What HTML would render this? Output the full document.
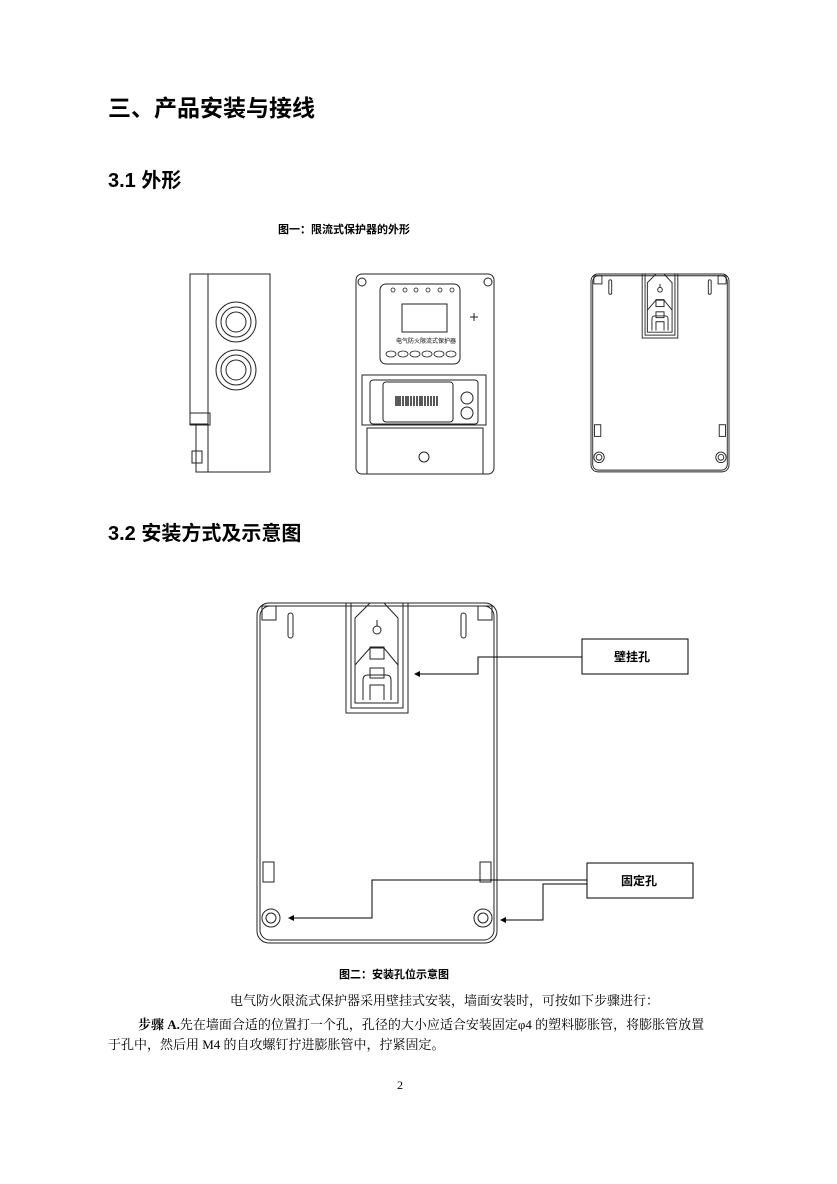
<!DOCTYPE html>
<html><head><meta charset="utf-8"><style>
body{margin:0;background:#fff;}
.p{position:relative;width:837px;height:1184px;overflow:hidden;font-family:"Liberation Sans","Noto Sans CJK SC",sans-serif;color:#000;}
.t{position:absolute;white-space:nowrap;}
.s{font-size:13px;font-family:'Liberation Serif','Noto Serif CJK SC',serif;}
</style></head><body><div class="p">
<div class="t" style="left:108px;top:89px;font-size:23px;font-weight:bold;">三、产品安装与接线</div>
<div class="t" style="left:108px;top:164px;font-size:20px;font-weight:bold;">3.1 外形</div>
<div class="t" style="left:278px;top:221px;font-size:11px;font-weight:bold;">图一：限流式保护器的外形</div>
<div class="t" style="left:108px;top:517px;font-size:20px;font-weight:bold;">3.2 安装方式及示意图</div>
<div class="t" style="left:339px;top:966px;font-size:11px;font-weight:bold;">图二：安装孔位示意图</div>
<div class="t s" style="left:230px;top:990px;">电气防火限流式保护器采用壁挂式安装，墙面安装时，可按如下步骤进行：</div>
<div class="t s" style="left:138px;top:1014px;"><b>步骤 A.</b>先在墙面合适的位置打一个孔，孔径的大小应适合安装固定φ4 的塑料膨胀管，将膨胀管放置</div>
<div class="t s" style="left:108px;top:1034px;">于孔中，然后用 M4 的自攻螺钉拧进膨胀管中，拧紧固定。</div>
<div class="t" style="left:397px;top:1078px;font-size:12px;font-family:'Liberation Serif',serif;">2</div>
<svg width="837" height="1184" style="position:absolute;left:0;top:0" fill="none" stroke="#222" stroke-width="1">
<defs>
<g id="back">
<rect x="257" y="603" width="240" height="340" rx="12"/>
<rect x="260" y="606" width="234" height="334" rx="10"/>
<rect x="262" y="606" width="14" height="14"/><rect x="478" y="606" width="14" height="14"/>
<rect x="288" y="613" width="5" height="25" rx="2.5"/><rect x="461" y="613" width="5" height="25" rx="2.5"/>
<rect x="346" y="603" width="62" height="110"/><rect x="351" y="603" width="52" height="105"/>
<path d="M355 618 L370 603 L384 603 L398 618 L398 703 L355 703 Z"/>
<circle cx="377" cy="630" r="4"/><path d="M377 620 L377 626"/>
<path d="M355 665 L370 648 L384 648 L398 665"/>
<rect x="370" y="647" width="14" height="12"/><rect x="370" y="668" width="14" height="10"/>
<path d="M363 700 L363 680 Q363 675 368 675 L386 675 Q391 675 391 680 L391 700"/>
<path d="M370 700 L370 685 L384 685 L384 700"/>
<rect x="263" y="862" width="11" height="20"/><rect x="480" y="862" width="11" height="20"/>
<circle cx="271" cy="918" r="9"/><circle cx="271" cy="918" r="5"/>
<circle cx="483" cy="918" r="9"/><circle cx="483" cy="918" r="5"/>
</g>
</defs>
<use href="#back"/>
<g transform="translate(591,274) scale(0.575,0.582) translate(-257,-603)" stroke-width="1.6"><use href="#back"/></g>
<rect x="582" y="639" width="106" height="35" stroke="#000"/>
<rect x="587" y="863" width="106" height="35" stroke="#000"/>
<path d="M582 657 H478 V674 H418" stroke="#000"/>
<path d="M587 880 H372 V918 H292" stroke="#000"/>
<path d="M587 884 H543 V920 H504" stroke="#000"/>
<g fill="#000" stroke="none">
<path d="M414 674 l6 -3 v6z"/><path d="M288 918 l6 -3 v6z"/><path d="M500 920 l6 -3 v6z"/>
</g>
<rect x="208" y="274" width="62" height="198"/>
<rect x="190" y="274" width="18" height="150"/>
<rect x="196" y="424" width="12" height="48"/>
<rect x="190" y="413" width="20" height="12"/>
<circle cx="236" cy="322" r="20"/><circle cx="236" cy="322" r="15"/><circle cx="236" cy="322" r="10"/>
<circle cx="236" cy="370" r="20"/><circle cx="236" cy="370" r="15"/><circle cx="236" cy="370" r="10"/>
<rect x="192" y="451" width="10" height="12"/>
<rect x="356" y="274" width="138" height="200" rx="6"/>
<circle cx="362" cy="282" r="4"/><circle cx="488" cy="282" r="4"/>
<rect x="380" y="284" width="80" height="80" rx="6"/>
<rect x="402" y="304" width="45" height="28"/>
<rect x="362" y="375" width="124" height="50"/>
<rect x="370" y="380" width="108" height="44" rx="3"/>
<rect x="383" y="382" width="70" height="40" rx="3"/>
<circle cx="467" cy="398" r="6"/><circle cx="467" cy="413" r="6"/>
<rect x="367" y="428" width="116" height="46"/>
<circle cx="424" cy="457" r="5"/>
<g stroke-width="1.5"><path d="M396 396v10M398 396v10M400 396v10M403 396v10M406 396v10M408 396v10M411 396v10M414 396v10M417 396v10M420 396v10M422 396v10M425 396v10M428 396v10M431 396v10M434 396v10M437 396v10"/></g>
<path d="M470 317h8M474 313v8"/>
<g stroke-width="0.8"><circle cx="393" cy="290" r="2"/><circle cx="405" cy="290" r="2"/><circle cx="416" cy="290" r="2"/><circle cx="428" cy="290" r="2"/><circle cx="440" cy="290" r="2"/><circle cx="452" cy="290" r="2"/>
<ellipse cx="391" cy="354" rx="5" ry="3"/><ellipse cx="403" cy="354" rx="5" ry="3"/><ellipse cx="415" cy="354" rx="5" ry="3"/><ellipse cx="427" cy="354" rx="5" ry="3"/><ellipse cx="439" cy="354" rx="5" ry="3"/><ellipse cx="451" cy="354" rx="5" ry="3"/></g>
</svg>
<div class="t" style="left:614px;top:648px;font-size:12px;font-weight:bold;">壁挂孔</div>
<div class="t" style="left:621px;top:872px;font-size:12px;font-weight:bold;">固定孔</div>
<div class="t" style="left:396px;top:336px;font-size:6px;">电气防火限流式保护器</div>
</div></body></html>
